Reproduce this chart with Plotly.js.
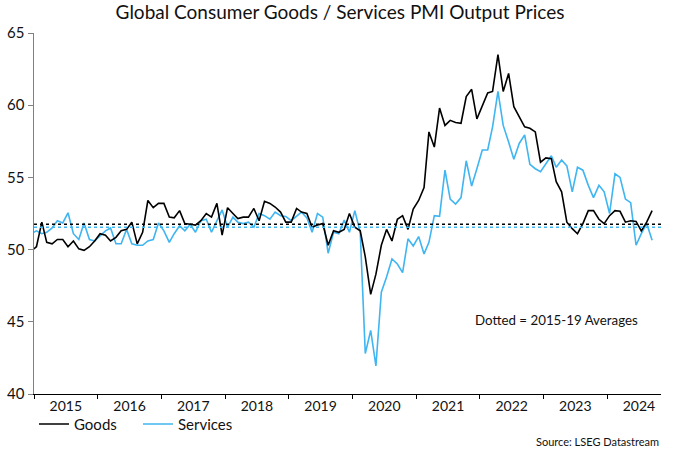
<!DOCTYPE html>
<html>
<head>
<meta charset="utf-8">
<script src="https://cdn.plot.ly/plotly-3.0.1.min.js"></script>
<style>html,body{margin:0;padding:0;background:#fff;}</style>
</head>
<body>
<div id="chart" style="width:680px;height:453px;"></div>
<script>
// Monthly data, Dec 2014 (clipped at left edge) through Sep 2024
const goods = [
  49.9,
  50.2, 51.9, 50.5, 50.4, 50.7, 50.7, 50.2, 50.6, 50.05, 49.95, 50.2, 50.6,
  51.1, 51.0, 50.6, 50.85, 51.3, 51.4, 51.9, 50.4, 51.2, 53.4, 52.9, 53.2,
  53.2, 52.25, 52.2, 52.7, 51.8, 51.75, 51.7, 52.0, 52.5, 52.25, 53.2, 51.0,
  52.9, 52.5, 52.15, 52.25, 52.25, 52.85, 52.0, 53.35, 53.2, 52.95, 52.6, 51.9,
  51.9, 52.85, 52.6, 52.5, 51.55, 51.7, 51.8, 50.3, 51.3, 51.2, 51.4, 52.5,
  51.55, 51.3, 49.5, 46.9, 48.3, 50.3, 51.4, 50.6, 52.1, 52.35, 51.4, 52.8,
  53.4, 54.3, 58.15, 57.1, 59.8, 58.6, 58.95, 58.8, 58.75, 60.6, 61.1, 59.05,
  59.9, 60.85, 60.95, 63.5, 60.95, 62.2, 59.9, 59.2, 58.5, 58.4, 58.15, 56.05,
  56.35, 56.3, 54.7, 54.0, 51.9, 51.45, 51.1, 51.8, 52.7, 52.7, 52.1, 51.8,
  52.35, 52.7, 52.65, 51.9, 52.0, 51.95, 51.3, 51.9, 52.7
];
const services = [
  51.1,
  51.3, 51.1, 51.2, 51.5, 52.0, 51.85, 52.55, 51.1, 50.7, 51.85, 50.7, 50.6,
  50.95, 51.3, 51.5, 50.4, 50.4, 51.4, 50.4, 50.3, 50.3, 50.6, 50.7, 51.85,
  51.3, 50.5, 51.1, 51.65, 51.3, 51.75, 51.2, 52.0, 52.1, 51.2, 52.0, 52.75,
  51.55, 52.25, 51.9, 51.8, 51.9, 51.55, 52.5, 52.35, 52.1, 52.6, 52.35, 52.3,
  52.0, 52.3, 52.6, 52.2, 51.2, 52.5, 52.25, 49.75, 51.2, 51.1, 52.05, 51.2,
  52.7, 51.2, 42.8, 44.4, 41.95, 47.05, 48.1, 49.35, 49.0, 48.4, 50.75, 50.25,
  50.9, 49.7, 50.5, 52.35, 52.3, 55.5, 53.5, 53.15, 53.6, 56.15, 54.4, 55.6,
  56.9, 56.9, 58.5, 60.95, 58.6, 57.45, 56.25, 57.35, 57.95, 55.9, 55.6, 55.4,
  55.95, 56.5, 55.7, 56.2, 55.8, 54.0, 55.7, 55.5, 54.45, 53.6, 54.45, 54.0,
  52.5, 55.25, 55.0, 53.5, 53.25, 50.3, 51.1, 51.8, 50.65
];
const goodsAvg = 51.75;     // 2015-19 average, Goods
const servicesAvg = 51.55;  // 2015-19 average, Services
const yTicks = [40, 45, 50, 55, 60, 65];
const seriesNames = ['Goods', 'Services'];

// month dates (mid-month), starting Dec 2014
const months = [];
for (let i = 0; i < goods.length; i++) {
  const d = new Date(Date.UTC(2014, 11 + i, 15));
  months.push(d.toISOString().slice(0, 10));
}

const BLUE = '#3fb5f1';
const FONT = 'Lato, "Open Sans", sans-serif';

const traces = [
  {x: months, y: services, type: 'scatter', mode: 'lines', name: seriesNames[1],
   line: {color: BLUE, width: 1.6}},
  {x: months, y: goods, type: 'scatter', mode: 'lines', name: seriesNames[0],
   line: {color: '#000000', width: 1.6}}
];

const layout = {
  width: 680, height: 453,
  margin: {l: 34, r: 19, t: 33, b: 59, autoexpand: false},
  paper_bgcolor: '#ffffff', plot_bgcolor: '#ffffff',
  font: {family: FONT, color: '#111', size: 13},
  title: {text: 'Global Consumer Goods / Services PMI Output Prices',
          x: 0.5, xref: 'container', xanchor: 'center',
          y: 0.973, yref: 'container', yanchor: 'middle',
          font: {family: FONT, size: 19, color: '#111'}},
  showlegend: true,
  legend: {orientation: 'h', x: 0.0, xanchor: 'left', y: -0.038, yanchor: 'top',
           traceorder: 'reversed', entrywidth: 59, entrywidthmode: 'pixels',
           font: {family: FONT, size: 15, color: '#111'}, bgcolor: 'rgba(0,0,0,0)'},
  xaxis: {type: 'date', range: ['2015-01-01', '2024-11-05'],
          tick0: '2015-01-01', dtick: 'M12', tickformat: '%Y', ticklabelmode: 'period',
          ticks: 'outside', ticklen: 4, tickwidth: 1, tickcolor: '#000',
          ticklabelstandoff: -5,
          showline: true, linecolor: '#000', linewidth: 1,
          showgrid: false, zeroline: false, automargin: false,
          tickfont: {family: FONT, size: 14, color: '#111'}},
  yaxis: {range: [40, 65], tickvals: yTicks, ticktext: yTicks.map(String),
          ticks: 'outside', ticklen: 5, tickwidth: 1, tickcolor: '#808080',
          showline: true, linecolor: '#808080', linewidth: 1.5,
          showgrid: false, zeroline: false, automargin: false,
          tickfont: {family: FONT, size: 15, color: '#111'}},
  shapes: [
    {type: 'line', xref: 'paper', x0: 0, x1: 1, yref: 'y', y0: servicesAvg, y1: servicesAvg,
     line: {color: BLUE, width: 1.5, dash: 'dot'}},
    {type: 'line', xref: 'paper', x0: 0, x1: 1, yref: 'y', y0: goodsAvg, y1: goodsAvg,
     line: {color: '#000', width: 1.5, dash: 'dot'}}
  ],
  annotations: [
    {text: 'Dotted = 2015-19 Averages', xref: 'paper', x: 0.834, yref: 'y', y: 45.1,
     showarrow: false, xanchor: 'center', yanchor: 'middle',
     font: {family: FONT, size: 13.3, color: '#111'}},
    {text: 'Source: LSEG Datastream', xref: 'paper', x: 1.0, xanchor: 'right',
     yref: 'paper', y: -0.131, yanchor: 'middle', showarrow: false,
     font: {family: FONT, size: 11, color: '#111'}}
  ]
};

Plotly.newPlot('chart', traces, layout, {displayModeBar: false, staticPlot: true});
</script>
</body>
</html>
